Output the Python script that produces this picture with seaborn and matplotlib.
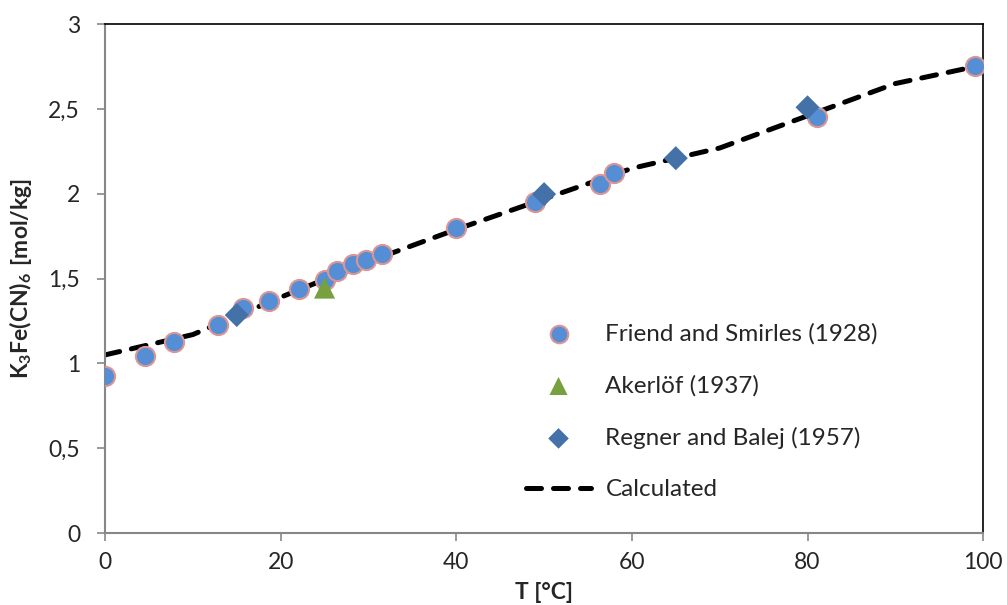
import numpy as np
import pandas as pd
import matplotlib
matplotlib.use("Agg")
import matplotlib.pyplot as plt
import matplotlib.ticker as mticker
import seaborn as sns

# Friend and Smirles (1928)
t_friend = [0, 4.6, 7.9, 12.9, 15.7, 18.7, 22.1, 25.1, 26.4, 28.2, 29.7, 31.5,
            40.0, 49.0, 56.4, 58.0, 81.1, 99.1]
c_friend = [0.925, 1.043, 1.125, 1.226, 1.326, 1.367, 1.438, 1.491, 1.544, 1.585,
            1.609, 1.644, 1.797, 1.950, 2.057, 2.121, 2.451, 2.752]
# Akerlöf (1937)
t_aker = [25]
c_aker = [1.444]
# Regner and Balej (1957)
t_regner = [15, 50, 65, 80]
c_regner = [1.285, 1.998, 2.210, 2.510]
# calculated curve
t_calc = [0, 10, 20, 30, 40, 50, 60, 70, 80, 90, 100]
c_calc = [1.05, 1.17, 1.39, 1.60, 1.79, 1.97, 2.15, 2.27, 2.46, 2.65, 2.76]

df_f = pd.DataFrame({"T": t_friend, "c": c_friend})
df_a = pd.DataFrame({"T": t_aker, "c": c_aker})
df_r = pd.DataFrame({"T": t_regner, "c": c_regner})
df_c = pd.DataFrame({"T": t_calc, "c": c_calc})

sns.set_style("ticks")
plt.rcParams['font.family'] = ['Lato', 'DejaVu Sans']
plt.rcParams['mathtext.fontset'] = 'custom'
plt.rcParams['mathtext.rm'] = 'Lato'
plt.rcParams['mathtext.bf'] = 'Lato:bold'

fig = plt.figure(figsize=(10.07, 6.05), dpi=100)
ax = fig.add_axes([0.1043, 0.119, 0.872, 0.841])

sns.scatterplot(data=df_f, x="T", y="c", ax=ax, marker="o", s=190,
                color="#558ED5", edgecolor="#D99694", linewidth=1.5,
                label="Friend and Smirles (1928)", zorder=3)
sns.scatterplot(data=df_a, x="T", y="c", ax=ax, marker="^", s=230,
                color="#77A13F", edgecolor="none", linewidth=0,
                label="Akerlöf (1937)", zorder=4)
sns.scatterplot(data=df_r, x="T", y="c", ax=ax, marker="D", s=150,
                color="#4472A8", edgecolor="none", linewidth=0,
                label="Regner and Balej (1957)", zorder=4)
sns.lineplot(data=df_c, x="T", y="c", ax=ax, color="black", linewidth=3.6,
             dashes=False, label="Calculated", zorder=2)
ax.lines[-1].set_dashes([3.0, 2.4])
ax.lines[-1].set_dash_capstyle("round")

ax.set_xlim(0, 100)
ax.set_ylim(0, 3)
ax.set_xticks([0, 20, 40, 60, 80, 100])
ax.set_yticks([0, 0.5, 1, 1.5, 2, 2.5, 3])
ax.yaxis.set_major_formatter(mticker.FuncFormatter(lambda v, p: f"{v:g}".replace(".", ",")))
ax.tick_params(axis="both", labelsize=16.5, color="#878787", length=6, width=1.2,
               direction="out")
ax.tick_params(axis="x", pad=8)
ax.tick_params(axis="y", pad=12)

for s in ["left", "bottom"]:
    ax.spines[s].set_color("#878787")
    ax.spines[s].set_linewidth(1.5)
for s in ["top", "right"]:
    ax.spines[s].set_color("black")
    ax.spines[s].set_linewidth(1.2)

ax.set_xlabel("T [°C]", fontsize=16.5, fontweight="bold", labelpad=6)
ax.set_ylabel(r"$\mathbf{K_3Fe(CN)_6\ [mol/kg]}$", fontsize=16.5, labelpad=10)

leg = ax.legend(loc="upper left", bbox_to_anchor=(0.468, 0.432), frameon=False,
                fontsize=17.5, labelspacing=1.25, handlelength=2.7,
                handletextpad=0.58, borderaxespad=0)
sizes = [160, 170, 110]
for h, sz in zip(leg.legend_handles[:3], sizes):
    h.set_sizes([sz])

fig.savefig("out.png", dpi=100)
